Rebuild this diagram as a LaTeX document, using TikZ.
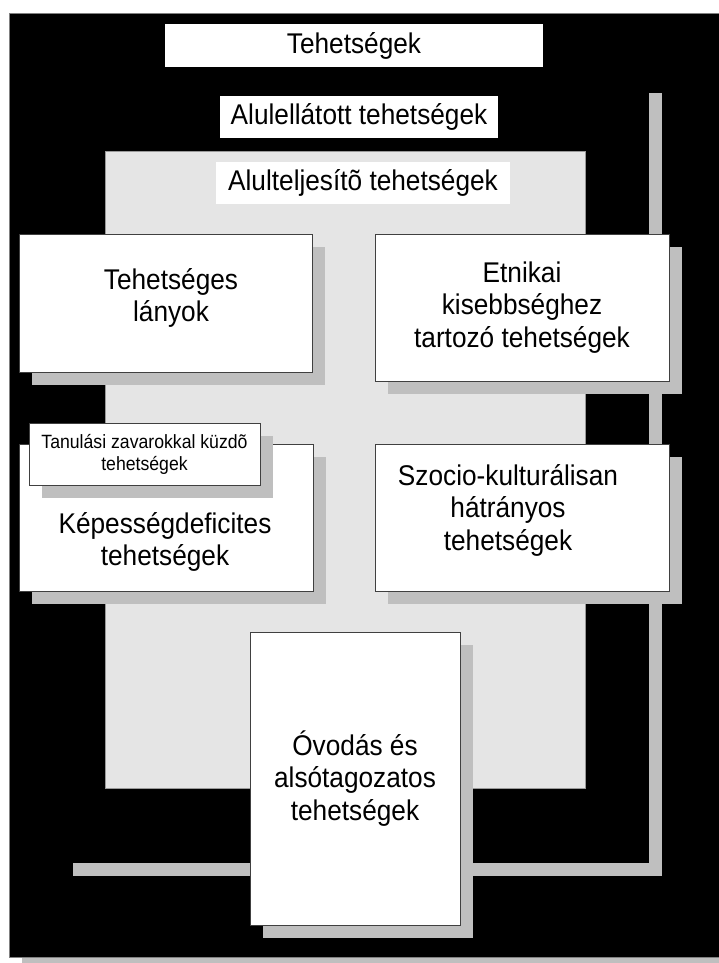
\documentclass[tikz,border=0pt]{standalone}
\usepackage{fontspec}
\setmainfont{Liberation Sans}
\newfontfamily\narrowfont[FakeStretch=0.92]{Liberation Sans}
\usetikzlibrary{shadows}
\definecolor{shadowgray}{gray}{0.75}
\definecolor{panelgray}{gray}{0.9}
\newcommand\bigtext{\narrowfont\fontsize{28.5}{32.5}\selectfont}
\newcommand\smalltext{\narrowfont\fontsize{19.2}{22}\selectfont}
\tikzset{
  boxshadow/.style={general shadow={fill=shadowgray, shadow xshift=13pt, shadow yshift=-13pt}},
  groupbox/.style={draw=black!75, fill=white, line width=0.8pt, inner sep=0pt, align=center, font=\bigtext, boxshadow},
  titlebox/.style={fill=white, inner sep=0pt, font=\bigtext}
}

\begin{document}
\begin{tikzpicture}[x=1pt, y=-1pt]
    \useasboundingbox (0,0) rectangle (719,963);
    \begin{scope}
      % outer frame and the black region with its shadow
      \path[fill=black, draw=gray, line width=0.8pt, boxshadow] (9,13) rectangle (760,957);
      \path[fill=black, boxshadow] (60,80) rectangle (649,863);
      \path[fill=panelgray, draw=gray!80, line width=0.6pt] (105,151) rectangle (585,788);

      \node[titlebox, minimum width=378pt, minimum height=43pt] (teh) at (354,45.5) {Tehetségek};
      \node[titlebox, minimum width=278pt, minimum height=42pt] (alulell) at (359,117) {Alulellátott tehetségek};
      \node[titlebox, minimum width=294pt, minimum height=42pt] (alultelj) at (363,183) {Alulteljesítõ tehetségek};

      \node[groupbox, minimum width=293pt, minimum height=138pt] (lanyok) at (165.5,303) {};
      \node[font=\bigtext, align=center] (lanyoktext) at (171,298) {Tehetséges\\lányok};
      \node[groupbox, minimum width=294pt, minimum height=147pt] (etnikai) at (522,307.5) {Etnikai\\kisebbséghez\\tartozó tehetségek};

      \node[groupbox, minimum width=294pt, minimum height=147pt] (kepes) at (166,517.5) {};
      \node[font=\bigtext, align=center] (kepestext) at (165,542) {Képességdeficites\\tehetségek};
      \node[groupbox, font=\smalltext, minimum width=231pt, minimum height=62pt] (tanulasi) at (144.5,454) {Tanulási zavarokkal küzdõ\\tehetségek};
      \node[groupbox, minimum width=294pt, minimum height=147pt] (szocio) at (522,517.5) {};
      \node[font=\bigtext, align=center] (szociotext) at (508,510) {Szocio-kulturálisan\\hátrányos\\tehetségek};

      \node[groupbox, minimum width=210pt, minimum height=293pt] (ovoda) at (355,778.5) {Óvodás és\\alsótagozatos\\tehetségek};
    \end{scope}
  \end{tikzpicture}
\end{document}
